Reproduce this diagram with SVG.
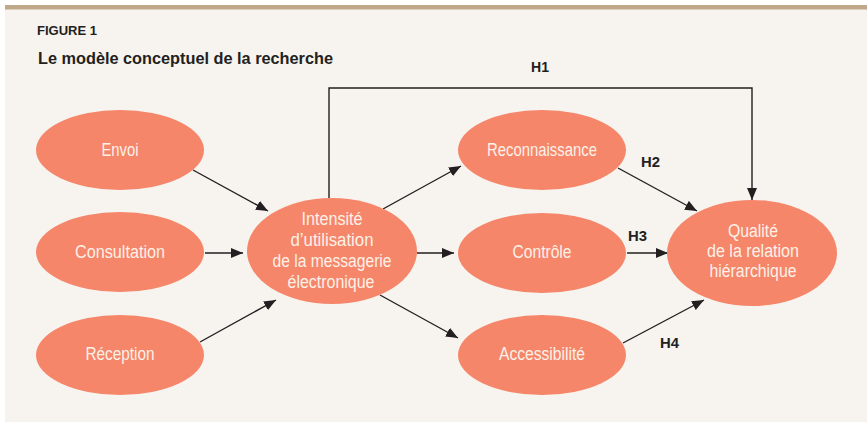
<svg xmlns="http://www.w3.org/2000/svg" width="867" height="422" viewBox="0 0 867 422">
<style>
.node{fill:#f5866a}
.nt{font-family:"Liberation Sans",Arial,sans-serif;font-size:18px;fill:#fdf1e8;text-anchor:middle}
.hl{font-family:"Liberation Sans",Arial,sans-serif;font-size:15px;font-weight:bold;fill:#231f20}
.ttl{font-family:"Liberation Sans",Arial,sans-serif;font-weight:bold;fill:#231f20}
.conn{stroke:#231f20;stroke-width:1.4;fill:none}
</style>
<defs>
<marker id="arr" viewBox="0 0 12 10" refX="12" refY="5" markerWidth="12" markerHeight="10" markerUnits="userSpaceOnUse" orient="auto">
<path d="M0,0 L12,5 L0,10 Z" fill="#231f20"/>
</marker>
</defs>
<rect x="0" y="0" width="867" height="422" fill="#ffffff"/>
<rect x="5" y="9" width="862" height="413" fill="#f7f3ee"/>
<rect x="5" y="5" width="862" height="4.5" fill="#bfa98a"/>
<text class="ttl" x="37" y="35" font-size="13" textLength="60" lengthAdjust="spacingAndGlyphs">FIGURE 1</text>
<text class="ttl" x="38" y="64" font-size="17" textLength="295" lengthAdjust="spacingAndGlyphs">Le modèle conceptuel de la recherche</text>

<g id="connectors">
<polyline class="conn" points="329,198 329,88 752,88 752,200" marker-end="url(#arr)"/>
<line class="conn" x1="193" y1="170" x2="268" y2="211" marker-end="url(#arr)"/>
<line class="conn" x1="205" y1="253" x2="243" y2="253" marker-end="url(#arr)"/>
<line class="conn" x1="200" y1="342" x2="276" y2="300" marker-end="url(#arr)"/>
<line class="conn" x1="383" y1="209" x2="461" y2="166" marker-end="url(#arr)"/>
<line class="conn" x1="417" y1="253" x2="454" y2="253" marker-end="url(#arr)"/>
<line class="conn" x1="380" y1="295" x2="458" y2="338" marker-end="url(#arr)"/>
<line class="conn" x1="618" y1="168" x2="697" y2="211" marker-end="url(#arr)"/>
<line class="conn" x1="627" y1="253" x2="668" y2="253" marker-end="url(#arr)"/>
<line class="conn" x1="623" y1="343" x2="704" y2="300" marker-end="url(#arr)"/>
<text class="hl" x="531" y="72" textLength="18" lengthAdjust="spacingAndGlyphs">H1</text>
<text class="hl" x="641" y="167" textLength="19" lengthAdjust="spacingAndGlyphs">H2</text>
<text class="hl" x="628" y="241" textLength="19" lengthAdjust="spacingAndGlyphs">H3</text>
<text class="hl" x="660" y="348" textLength="19" lengthAdjust="spacingAndGlyphs">H4</text>
</g>

<g id="envoi">
<ellipse class="node" cx="120" cy="150" rx="84" ry="40"/>
<text class="nt" x="120" y="156" textLength="37" lengthAdjust="spacingAndGlyphs">Envoi</text>
</g>
<g id="consultation">
<ellipse class="node" cx="120" cy="252" rx="84" ry="40"/>
<text class="nt" x="120" y="258" textLength="90" lengthAdjust="spacingAndGlyphs">Consultation</text>
</g>
<g id="reception">
<ellipse class="node" cx="120" cy="355" rx="84" ry="40"/>
<text class="nt" x="120" y="360" textLength="69" lengthAdjust="spacingAndGlyphs">Réception</text>
</g>
<g id="intensite">
<ellipse class="node" cx="332" cy="251" rx="85" ry="53"/>
<text class="nt" x="332" y="225" textLength="61" lengthAdjust="spacingAndGlyphs">Intensité</text>
<text class="nt" x="332" y="246" textLength="83" lengthAdjust="spacingAndGlyphs">d’utilisation</text>
<text class="nt" x="332" y="267" textLength="119" lengthAdjust="spacingAndGlyphs">de la messagerie</text>
<text class="nt" x="331" y="288" textLength="87" lengthAdjust="spacingAndGlyphs">électronique</text>
</g>
<g id="reconnaissance">
<ellipse class="node" cx="542" cy="150" rx="84" ry="40"/>
<text class="nt" x="542" y="156" textLength="110" lengthAdjust="spacingAndGlyphs">Reconnaissance</text>
</g>
<g id="controle">
<ellipse class="node" cx="542" cy="253" rx="84" ry="40"/>
<text class="nt" x="542" y="258" textLength="59" lengthAdjust="spacingAndGlyphs">Contrôle</text>
</g>
<g id="accessibilite">
<ellipse class="node" cx="542" cy="355" rx="84" ry="40"/>
<text class="nt" x="542" y="360" textLength="86" lengthAdjust="spacingAndGlyphs">Accessibilité</text>
</g>
<g id="qualite">
<ellipse class="node" cx="752" cy="253" rx="85" ry="53"/>
<text class="nt" x="753" y="237" textLength="50" lengthAdjust="spacingAndGlyphs">Qualité</text>
<text class="nt" x="753" y="257" textLength="92" lengthAdjust="spacingAndGlyphs">de la relation</text>
<text class="nt" x="753" y="277" textLength="87" lengthAdjust="spacingAndGlyphs">hiérarchique</text>
</g>
</svg>
